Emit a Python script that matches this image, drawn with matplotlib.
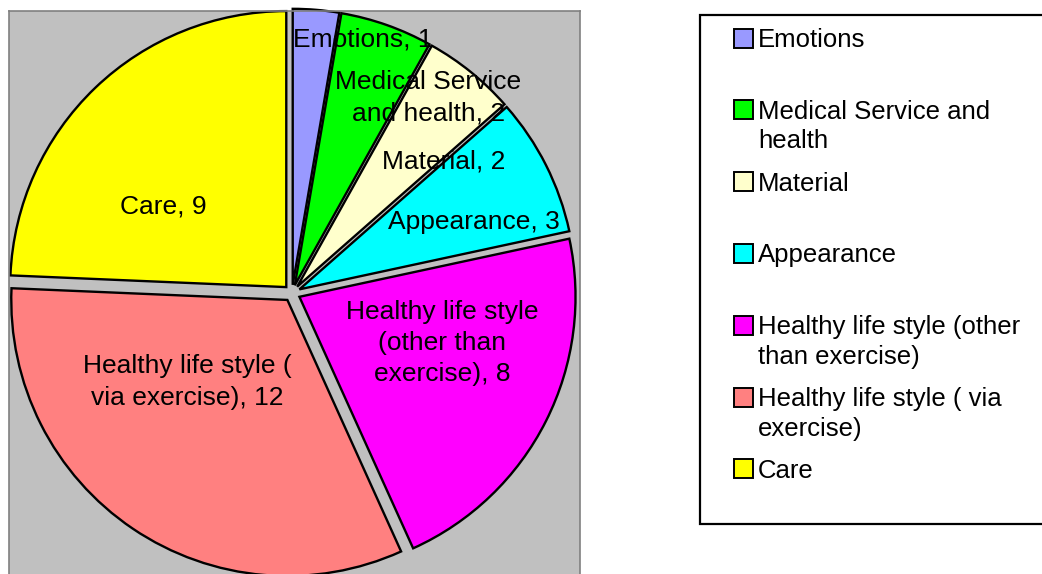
import matplotlib
matplotlib.use('Agg')
import matplotlib.pyplot as plt
from matplotlib.patches import Rectangle

plt.rcParams['font.family'] = ['Liberation Sans', 'DejaVu Sans']

# data
categories = ['Emotions', 'Medical Service and health', 'Material', 'Appearance',
              'Healthy life style (other than exercise)', 'Healthy life style ( via exercise)', 'Care']
values = [1, 2, 2, 3, 8, 12, 9]
colors = ['#9999FF', '#00FF00', '#FFFFCC', '#00FFFF', '#FF00FF', '#FF8080', '#FFFF00']

# wrapped texts as they appear in the picture
slice_text = ['Emotions', 'Medical Service\nand health', 'Material', 'Appearance',
              'Healthy life style\n(other than\nexercise)', 'Healthy life style (\nvia exercise)', 'Care']
legend_text = ['Emotions', 'Medical Service and\nhealth', 'Material', 'Appearance',
               'Healthy life style (other\nthan exercise)', 'Healthy life style ( via\nexercise)', 'Care']

# label centres in pie units (layout only)
label_xy = [(0.257, 0.917), (0.493, 0.707), (0.551, 0.475), (0.659, 0.257),
            (0.543, -0.181), (-0.380, -0.322), (-0.467, 0.312)]

W, H = 1042, 574
fig = plt.figure(figsize=(W / 100, H / 100), dpi=100)
fig.patch.set_facecolor('white')

# plot area in pixels: left 9, right 580, top 11, bottom 576
ax = fig.add_axes([9 / W, (H - 576) / H, 571 / W, 565 / H])
ax.set_facecolor('#C0C0C0')
wedges, _ = ax.pie(values, colors=colors, startangle=90, counterclock=False,
                   explode=[0.03] * len(values), frame=True,
                   wedgeprops=dict(edgecolor='black', linewidth=1.7))
ax.set_xlim(-1.025, 1.043)
ax.set_ylim(-1.025, 1.022)
ax.set_aspect('auto')
ax.set_xticks([])
ax.set_yticks([])
for sp in ax.spines.values():
    sp.set_color('#808080')
    sp.set_linewidth(1.2)

for (x, y), txt, v in zip(label_xy, slice_text, values):
    ax.text(x, y, f'{txt}, {v}', ha='center', va='center', fontsize=19, linespacing=1.38)

# legend box, drawn by hand to keep Excel's even row pitch
def fx(px):
    return px / W

def fy(py):
    return 1 - py / H

box = Rectangle((fx(700), fy(524)), fx(1050) - fx(700), fy(15) - fy(524),
                transform=fig.transFigure, facecolor='white', edgecolor='black',
                linewidth=1.6, clip_on=False)
fig.add_artist(box)

row_pitch = 71.8
for i, (txt, c) in enumerate(zip(legend_text, colors)):
    yc = 38 + i * row_pitch
    sq = Rectangle((fx(734), fy(yc + 9.5)), fx(19), 19 / H, transform=fig.transFigure,
                   facecolor=c, edgecolor='black', linewidth=1.4)
    fig.add_artist(sq)
    fig.text(fx(758), fy(yc - 10), txt, ha='left', va='top', fontsize=18.5, linespacing=1.3)

fig.savefig('out.png', dpi=100)
